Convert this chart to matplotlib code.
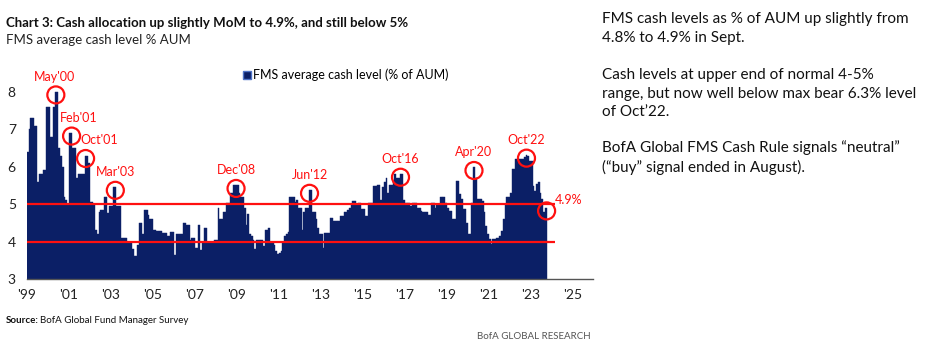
import matplotlib
matplotlib.use("Agg")
import matplotlib.pyplot as plt
from matplotlib.lines import Line2D
import numpy as np

plt.rcParams['font.family'] = ['Lato', 'DejaVu Sans']

# FMS average cash level (% of AUM), monthly from Jan 1999 to Sep 2023
cash_1999 = [6.4, 7.0, 7.3, 7.3, 7.1, 7.1, 5.6, 5.8, 5.8, 5.9, 5.9, 7.6]
cash_2000 = [7.6, 6.8, 6.8, 7.6, 8.0, 8.0, 6.5, 6.3, 6.0, 5.2, 5.1, 5.0]
cash_2001 = [6.9, 6.9, 6.5, 6.5, 5.7, 5.8, 5.8, 5.8, 5.8, 6.3, 6.3, 6.1]
cash_2002 = [5.05, 5.05, 5.0, 4.3, 4.2, 4.8, 4.85, 4.85, 5.2, 5.2, 4.77, 4.95]
cash_2003 = [4.95, 5.45, 5.45, 4.95, 4.95, 4.95, 4.1, 4.1, 4.1, 3.96, 3.96, 3.96]
cash_2004 = [3.8, 3.62, 3.62, 3.9, 4.5, 4.5, 4.2, 4.84, 4.84, 4.72, 4.6, 4.6]
cash_2005 = [4.3, 4.3, 4.27, 4.27, 4.27, 4.23, 4.23, 4.23, 4.15, 4.15, 4.25, 4.25]
cash_2006 = [3.65, 4.2, 4.2, 4.2, 4.2, 4.5, 4.5, 4.43, 4.43, 4.05, 4.1, 4.1]
cash_2007 = [3.82, 3.82, 4.45, 3.78, 4.0, 4.36, 4.36, 4.0, 4.0, 4.0, 4.0, 4.05]
cash_2008 = [4.05, 4.9, 4.6, 4.6, 4.8, 4.8, 5.04, 5.04, 5.3, 5.3, 5.5, 5.5]
cash_2009 = [5.5, 5.3, 5.2, 5.2, 4.9, 4.45, 4.75, 4.2, 4.15, 4.05, 3.8, 4.05]
cash_2010 = [4.05, 4.05, 4.05, 3.88, 4.3, 4.3, 4.37, 4.0, 4.0, 3.9, 3.75, 3.66]
cash_2011 = [3.7, 3.75, 4.0, 4.15, 4.2, 4.25, 5.2, 5.2, 5.2, 5.05, 5.1, 4.9]
cash_2012 = [4.9, 4.3, 4.78, 4.9, 4.9, 5.37, 5.37, 4.8, 4.8, 4.6, 4.37, 4.2]
cash_2013 = [4.2, 3.84, 4.24, 4.24, 4.24, 4.64, 4.64, 4.55, 4.55, 4.55, 4.55, 4.68]
cash_2014 = [4.68, 4.8, 4.8, 4.85, 4.9, 4.97, 5.09, 5.09, 4.97, 5.04, 5.04, 4.87]
cash_2015 = [4.87, 4.69, 4.69, 5.04, 5.04, 5.04, 5.49, 5.49, 5.5, 5.5, 5.1, 5.45]
cash_2016 = [5.6, 5.69, 5.3, 5.5, 5.5, 5.6, 5.8, 5.7, 5.7, 5.8, 5.8, 5.1]
cash_2017 = [5.04, 5.04, 5.04, 4.96, 5.03, 5.03, 5.03, 4.9, 4.9, 4.82, 4.78, 4.78]
cash_2018 = [4.78, 4.7, 4.7, 5.04, 5.04, 4.9, 5.0, 5.0, 5.18, 5.18, 5.18, 5.04]
cash_2019 = [4.9, 4.82, 4.82, 4.6, 4.6, 5.62, 5.62, 5.27, 5.13, 4.87, 4.87, 4.5]
cash_2020 = [4.2, 4.2, 5.04, 5.98, 5.7, 5.13, 5.13, 5.13, 5.09, 4.78, 4.42, 4.2]
cash_2021 = [4.06, 3.93, 4.08, 4.08, 4.1, 4.1, 4.15, 4.29, 4.6, 5.0, 5.18, 5.18]
cash_2022 = [5.3, 5.95, 5.95, 6.2, 6.2, 6.2, 6.2, 6.2, 6.25, 6.31, 6.28, 6.16]
cash_2023 = [6.16, 5.49, 5.36, 5.54, 5.6, 5.31, 5.13, 4.8, 4.9]

year_labels = ["'99", "'01", "'03", "'05", "'07", "'09", "'11", "'13",
               "'15", "'17", "'19", "'21", "'23", "'25"]

# annotated peaks: label, year, month
peak_labels = ["May'00", "Feb'01", "Oct'01", "Mar'03", "Dec'08", "Jun'12",
               "Oct'16", "Apr'20", "Oct'22"]
peak_dates = [(2000, 5), (2001, 2), (2001, 10), (2003, 3), (2008, 12),
              (2012, 6), (2016, 10), (2020, 4), (2022, 10)]
label_dx = [-1, 5, 10, 0, 0, 0, 0, 0, 0]  # points, to keep labels clear of circles

cash = np.array(cash_1999 + cash_2000 + cash_2001 + cash_2002 + cash_2003 +
                cash_2004 + cash_2005 + cash_2006 + cash_2007 + cash_2008 +
                cash_2009 + cash_2010 + cash_2011 + cash_2012 + cash_2013 +
                cash_2014 + cash_2015 + cash_2016 + cash_2017 + cash_2018 +
                cash_2019 + cash_2020 + cash_2021 + cash_2022 + cash_2023)
months = np.arange(len(cash))

navy = '#0b1f66'
red = '#ff1010'

fig = plt.figure(figsize=(9.3, 3.52), dpi=100)
ax = fig.add_axes([0.029, 0.2074, 0.6086, 0.6165])

ax.bar(months, cash, width=1.0, align='edge', color=navy, edgecolor=navy, linewidth=0.3)

# normal range 4-5%
ax.hlines([4, 5], 0, len(cash) + 5, colors=red, linewidth=1.6, zorder=3)

ax.set_xlim(0, 323.5)
ax.set_ylim(3, 8.8)
ax.set_yticks([3, 4, 5, 6, 7, 8])
ax.set_xticks(np.arange(len(year_labels)) * 24)
ax.set_xticklabels(year_labels)
ax.tick_params(length=0, labelsize=10, colors='#222222')
ax.tick_params(axis='y', pad=8)
ax.tick_params(axis='x', pad=7)
for s in ['top', 'right', 'left']:
    ax.spines[s].set_visible(False)
ax.spines['bottom'].set_color('#555555')
ax.spines['bottom'].set_linewidth(1.0)

# circled peaks
for lab, (yr, mo), dx in zip(peak_labels, peak_dates, label_dx):
    i = (yr - 1999) * 12 + mo - 1
    ax.scatter(i + 0.5, cash[i] - 0.08, s=150, facecolors='none', edgecolors=red,
               linewidths=1.6, zorder=4)
    ax.annotate(lab, (i + 0.5, cash[i] - 0.08), xytext=(dx, 13), textcoords='offset points',
                ha='center', va='center', color=red, fontsize=9)

last = len(cash) - 1
ax.scatter(last + 1.0, cash[last] - 0.08, s=150, facecolors='none', edgecolors=red,
           linewidths=1.6, zorder=4)
ax.annotate('4.9%', (last + 1.0, cash[last] - 0.08), xytext=(16, 8), textcoords='offset points',
            ha='center', va='center', color=red, fontsize=9)

handle = Line2D([], [], marker='s', linestyle='none', markersize=6,
                markerfacecolor=navy, markeredgecolor='#4f74c8', markeredgewidth=1.0)
ax.legend([handle], ['FMS average cash level (% of AUM)'], loc='upper left',
          bbox_to_anchor=(0.36, 1.02), frameon=False, fontsize=9,
          handletextpad=0.1, handlelength=0.8)

fig.text(0.006, 0.935, 'Chart 3: Cash allocation up slightly MoM to 4.9%, and still below 5%',
         fontsize=9.5, fontweight='bold', color='#111111', va='center')
fig.text(0.006, 0.885, 'FMS average cash level % AUM', fontsize=9.5, color='#222222', va='center')

fig.text(0.006, 0.09, 'Source:', fontsize=7, fontweight='bold', color='#111111', va='center')
fig.text(0.043, 0.09, 'BofA Global Fund Manager Survey', fontsize=7, color='#111111', va='center')
fig.text(0.635, 0.045, 'BofA GLOBAL RESEARCH', fontsize=7, color='#555555', va='center', ha='right')

side_paras = ["FMS cash levels as % of AUM up slightly from\n4.8% to 4.9% in Sept.",
              "Cash levels at upper end of normal 4-5%\nrange, but now well below max bear 6.3% level\nof Oct\u201922.",
              "BofA Global FMS Cash Rule signals \u201cneutral\u201d\n(\u201cbuy\u201d signal ended in August)."]
side_tops = [0.967, 0.808, 0.603]
for txt, yt in zip(side_paras, side_tops):
    fig.text(0.647, yt, txt, fontsize=11, color='#111111', va='top', linespacing=1.45)

fig.savefig('out.png', dpi=100)
